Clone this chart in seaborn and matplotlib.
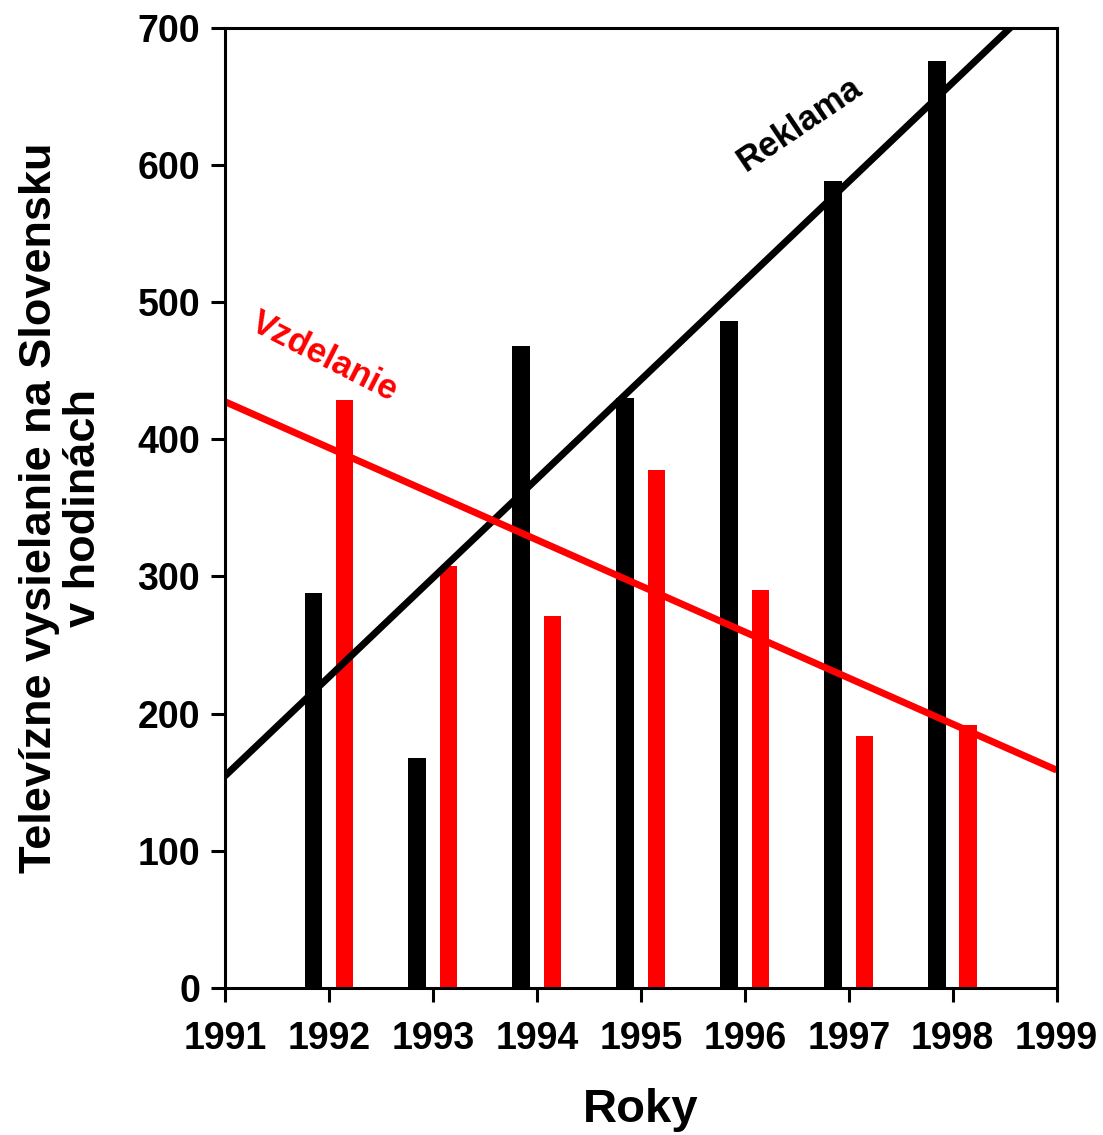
import numpy as np
import pandas as pd
import seaborn as sns
import matplotlib.pyplot as plt

# ===============================
# Data
# ===============================
years = [1992, 1993, 1994, 1995, 1996, 1997, 1998]
reklama = [288, 168, 468, 430, 486, 588, 676]
vzdelanie = [429, 308, 271, 378, 290, 184, 192]

df = pd.DataFrame({'Rok': years, 'Reklama': reklama, 'Vzdelanie': vzdelanie})
df['pos_rek'] = df['Rok'] - 0.15
df['pos_vzd'] = df['Rok'] + 0.15

# ===============================
# Style
# ===============================
sns.set_theme(style="white")
plt.rcParams['font.family'] = ['Liberation Sans', 'DejaVu Sans']
plt.rcParams['font.weight'] = 'bold'
plt.rcParams['text.color'] = 'black'
plt.rcParams['axes.labelcolor'] = 'black'

fig = plt.figure(figsize=(11.03, 11.35), dpi=100)
ax = fig.add_axes([0.204, 0.1295, 0.754, 0.846])

ax.set_xlim(1991, 1999)
ax.set_ylim(0, 700)

# bars
sns.barplot(data=df, x='pos_rek', y='Reklama', native_scale=True, width=0.17,
            color='black', saturation=1, linewidth=0, ax=ax)
sns.barplot(data=df, x='pos_vzd', y='Vzdelanie', native_scale=True, width=0.17,
            color='#ff0000', saturation=1, linewidth=0, ax=ax)

ax.set_xlim(1991, 1999)
ax.set_ylim(0, 700)

# regression lines across the whole axis
sns.regplot(data=df, x='Rok', y='Reklama', scatter=False, ci=None, truncate=False,
            color='black', line_kws={'linewidth': 5, 'solid_capstyle': 'butt'}, ax=ax)
sns.regplot(data=df, x='Rok', y='Vzdelanie', scatter=False, ci=None, truncate=False,
            color='#ff0000', line_kws={'linewidth': 5, 'solid_capstyle': 'butt'}, ax=ax)

ax.set_xlim(1991, 1999)
ax.set_ylim(0, 700)

# labels on lines
ax.text(1996.53, 630, 'Reklama', rotation=34, fontsize=25, fontweight='bold',
        color='black', ha='center', va='center')
ax.text(1991.96, 460, 'Vzdelanie', rotation=-27, fontsize=25, fontweight='bold',
        color='#ff0000', ha='center', va='center')

# axes, ticks
ax.set_xticks(range(1991, 2000))
ax.set_xticklabels([str(y) for y in range(1991, 2000)])
ax.set_yticks(range(0, 701, 100))
ax.tick_params(axis='both', direction='out', length=10, width=2.2,
               labelsize=27, colors='black', pad=8)
ax.tick_params(axis='x', bottom=True, top=False, pad=14)
ax.tick_params(axis='y', left=True, right=False)
for lbl in ax.get_xticklabels() + ax.get_yticklabels():
    lbl.set_fontweight('bold')

for side in ['left', 'right', 'top', 'bottom']:
    ax.spines[side].set_visible(True)
    ax.spines[side].set_color('black')
    ax.spines[side].set_linewidth(2.2)

ax.set_xlabel('Roky', fontsize=34, fontweight='bold', labelpad=22, color='black')
ax.set_ylabel('Televízne vysielanie na Slovensku\nv hodinách', fontsize=32.5,
              fontweight='bold', labelpad=24, linespacing=1.1, color='black')
ax.grid(False)

fig.savefig('out.png', dpi=100)
